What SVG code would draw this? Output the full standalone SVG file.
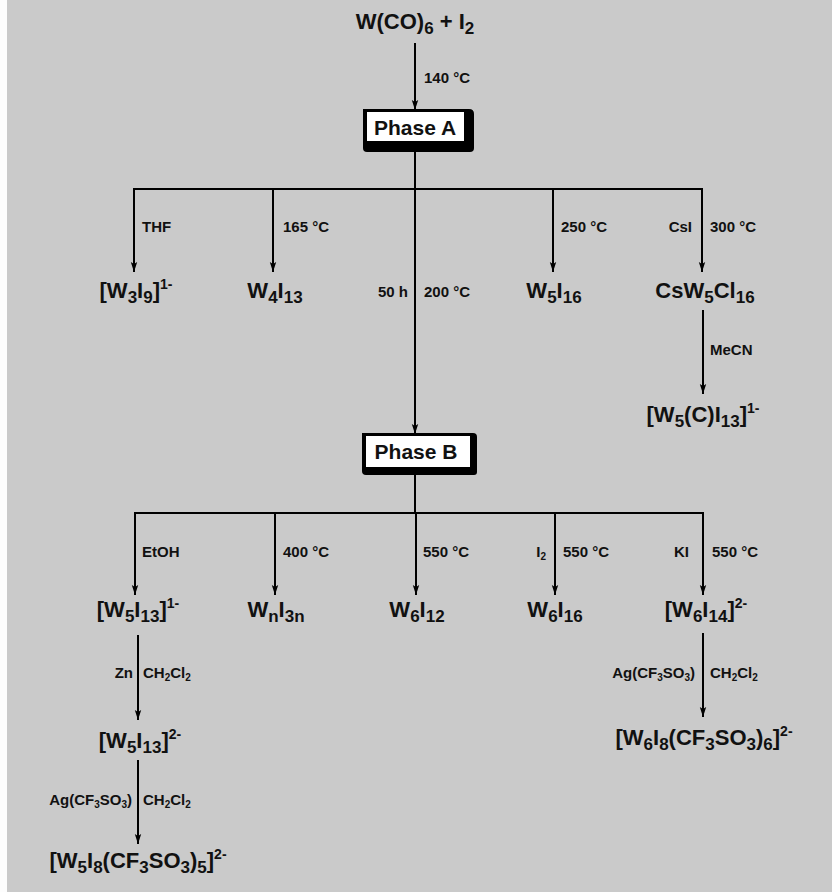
<svg xmlns="http://www.w3.org/2000/svg" width="832" height="892" viewBox="0 0 832 892">
<defs>
<marker id="ah" markerUnits="userSpaceOnUse" markerWidth="10" markerHeight="8" refX="10" refY="4" orient="auto">
<path d="M0,0.8 L10,4 L0,7.2 L2,4 z" fill="#000"/>
</marker>
<style>
.f{font-family:"Liberation Sans",Arial,Helvetica,sans-serif;font-weight:bold;fill:#111}
.m{font-size:22px;text-anchor:middle}
.l{font-size:15px}
.e{text-anchor:end}
.ph{font-size:21px;text-anchor:middle}
.c line,.c path{stroke:#000;stroke-width:2;fill:none}
.a{marker-end:url(#ah)}
</style>
</defs>
<rect x="0" y="0" width="832" height="892" fill="#cacaca"/>
<rect x="0" y="0" width="7" height="892" fill="#fdfdfd"/>

<g id="connectors" class="c">
<line class="a" x1="415" y1="43" x2="415" y2="110"/>
<line x1="415" y1="150" x2="415" y2="189"/>
<line x1="133" y1="189" x2="703" y2="189"/>
<line class="a" x1="134" y1="189" x2="134" y2="272"/>
<line class="a" x1="273" y1="189" x2="273" y2="272"/>
<line class="a" x1="553" y1="189" x2="553" y2="272"/>
<line class="a" x1="702" y1="189" x2="702" y2="272"/>
<line class="a" x1="415" y1="189" x2="415" y2="434"/>
<line class="a" x1="703" y1="310" x2="703" y2="394"/>
<line x1="415" y1="474" x2="415" y2="513"/>
<line x1="134" y1="513" x2="704" y2="513"/>
<line class="a" x1="135" y1="513" x2="135" y2="595"/>
<line class="a" x1="275" y1="513" x2="275" y2="595"/>
<line class="a" x1="416" y1="513" x2="416" y2="595"/>
<line class="a" x1="555" y1="513" x2="555" y2="595"/>
<line class="a" x1="703" y1="513" x2="703" y2="595"/>
<line class="a" x1="138" y1="635" x2="138" y2="720"/>
<line class="a" x1="138" y1="760" x2="138" y2="844"/>
<line class="a" x1="703" y1="633" x2="703" y2="717"/>
</g>

<g id="start">
<text class="f m" x="415" y="29">W(CO)<tspan font-size="17" dy="5">6</tspan><tspan dy="-5"> + I</tspan><tspan font-size="17" dy="5">2</tspan></text>
</g>
<g id="lbl-140"><text class="f l" x="424" y="83">140 °C</text></g>

<g id="phaseA">
<path d="M363,109 H469 Q474,109 474,114 V148 Q474,152 470,152 H367 Q363,152 363,148 Z" fill="#000"/>
<rect x="367" y="112" width="97" height="29" fill="#fff"/>
<text class="f ph" x="415" y="135">Phase A</text>
</g>

<g id="lbl-row1">
<text class="f l" x="142" y="232">THF</text>
<text class="f l" x="283" y="232">165 °C</text>
<text class="f l" x="561" y="232">250 °C</text>
<text class="f l e" x="692" y="232">CsI</text>
<text class="f l" x="710" y="232">300 °C</text>
<text class="f l e" x="408" y="297">50 h</text>
<text class="f l" x="424" y="297">200 °C</text>
<text class="f l" x="710" y="355">MeCN</text>
</g>

<g id="W3I9"><text class="f m" x="136" y="298">[W<tspan font-size="17" dy="5">3</tspan><tspan dy="-5">I</tspan><tspan font-size="17" dy="5">9</tspan><tspan dy="-5">]</tspan><tspan font-size="14" dy="-9">1-</tspan></text></g>
<g id="W4I13"><text class="f m" x="275" y="298">W<tspan font-size="17" dy="5">4</tspan><tspan dy="-5">I</tspan><tspan font-size="17" dy="5">13</tspan></text></g>
<g id="W5I16"><text class="f m" x="554" y="298">W<tspan font-size="17" dy="5">5</tspan><tspan dy="-5">I</tspan><tspan font-size="17" dy="5">16</tspan></text></g>
<g id="CsW5Cl16"><text class="f m" x="705" y="298">CsW<tspan font-size="17" dy="5">5</tspan><tspan dy="-5">Cl</tspan><tspan font-size="17" dy="5">16</tspan></text></g>
<g id="W5CI13"><text class="f m" x="703" y="422">[W<tspan font-size="17" dy="5">5</tspan><tspan dy="-5">(C)I</tspan><tspan font-size="17" dy="5">13</tspan><tspan dy="-5">]</tspan><tspan font-size="14" dy="-9">1-</tspan></text></g>

<g id="phaseB">
<path d="M362,433 H473 Q477,433 477,437 V472 Q477,475 474,475 H366 Q362,475 362,471 Z" fill="#000"/>
<rect x="366" y="436" width="104" height="31" fill="#fff"/>
<text class="f ph" x="416" y="459">Phase B</text>
</g>

<g id="lbl-row2">
<text class="f l" x="142" y="557">EtOH</text>
<text class="f l" x="283" y="557">400 °C</text>
<text class="f l" x="423" y="557">550 °C</text>
<text class="f l e" x="546" y="557">I<tspan font-size="10" dy="3">2</tspan></text>
<text class="f l" x="563" y="557">550 °C</text>
<text class="f l e" x="689" y="557">KI</text>
<text class="f l" x="712" y="557">550 °C</text>
</g>

<g id="W5I13-1"><text class="f m" x="138" y="617">[W<tspan font-size="17" dy="5">5</tspan><tspan dy="-5">I</tspan><tspan font-size="17" dy="5">13</tspan><tspan dy="-5">]</tspan><tspan font-size="14" dy="-9">1-</tspan></text></g>
<g id="WnI3n"><text class="f m" x="276" y="617">W<tspan font-size="17" dy="5">n</tspan><tspan dy="-5">I</tspan><tspan font-size="17" dy="5">3n</tspan></text></g>
<g id="W6I12"><text class="f m" x="417" y="617">W<tspan font-size="17" dy="5">6</tspan><tspan dy="-5">I</tspan><tspan font-size="17" dy="5">12</tspan></text></g>
<g id="W6I16"><text class="f m" x="555" y="617">W<tspan font-size="17" dy="5">6</tspan><tspan dy="-5">I</tspan><tspan font-size="17" dy="5">16</tspan></text></g>
<g id="W6I14"><text class="f m" x="706" y="617">[W<tspan font-size="17" dy="5">6</tspan><tspan dy="-5">I</tspan><tspan font-size="17" dy="5">14</tspan><tspan dy="-5">]</tspan><tspan font-size="14" dy="-9">2-</tspan></text></g>

<g id="lbl-chain">
<text class="f l e" x="133" y="678">Zn</text>
<text class="f l" x="143" y="678">CH<tspan font-size="10" dy="3">2</tspan><tspan dy="-3">Cl</tspan><tspan font-size="10" dy="3">2</tspan></text>
<text class="f l e" x="132" y="805">Ag(CF<tspan font-size="10" dy="3">3</tspan><tspan dy="-3">SO</tspan><tspan font-size="10" dy="3">3</tspan><tspan dy="-3">)</tspan></text>
<text class="f l" x="143" y="805">CH<tspan font-size="10" dy="3">2</tspan><tspan dy="-3">Cl</tspan><tspan font-size="10" dy="3">2</tspan></text>
<text class="f l e" x="695" y="678">Ag(CF<tspan font-size="10" dy="3">3</tspan><tspan dy="-3">SO</tspan><tspan font-size="10" dy="3">3</tspan><tspan dy="-3">)</tspan></text>
<text class="f l" x="710" y="678">CH<tspan font-size="10" dy="3">2</tspan><tspan dy="-3">Cl</tspan><tspan font-size="10" dy="3">2</tspan></text>
</g>

<g id="W5I13-2"><text class="f m" x="140" y="748">[W<tspan font-size="17" dy="5">5</tspan><tspan dy="-5">I</tspan><tspan font-size="17" dy="5">13</tspan><tspan dy="-5">]</tspan><tspan font-size="14" dy="-9">2-</tspan></text></g>
<g id="W5I8OTf"><text class="f m" x="138" y="868">[W<tspan font-size="17" dy="5">5</tspan><tspan dy="-5">I</tspan><tspan font-size="17" dy="5">8</tspan><tspan dy="-5">(CF</tspan><tspan font-size="17" dy="5">3</tspan><tspan dy="-5">SO</tspan><tspan font-size="17" dy="5">3</tspan><tspan dy="-5">)</tspan><tspan font-size="17" dy="5">5</tspan><tspan dy="-5">]</tspan><tspan font-size="14" dy="-9">2-</tspan></text></g>
<g id="W6I8OTf"><text class="f m" x="704" y="745">[W<tspan font-size="17" dy="5">6</tspan><tspan dy="-5">I</tspan><tspan font-size="17" dy="5">8</tspan><tspan dy="-5">(CF</tspan><tspan font-size="17" dy="5">3</tspan><tspan dy="-5">SO</tspan><tspan font-size="17" dy="5">3</tspan><tspan dy="-5">)</tspan><tspan font-size="17" dy="5">6</tspan><tspan dy="-5">]</tspan><tspan font-size="14" dy="-9">2-</tspan></text></g>
</svg>
